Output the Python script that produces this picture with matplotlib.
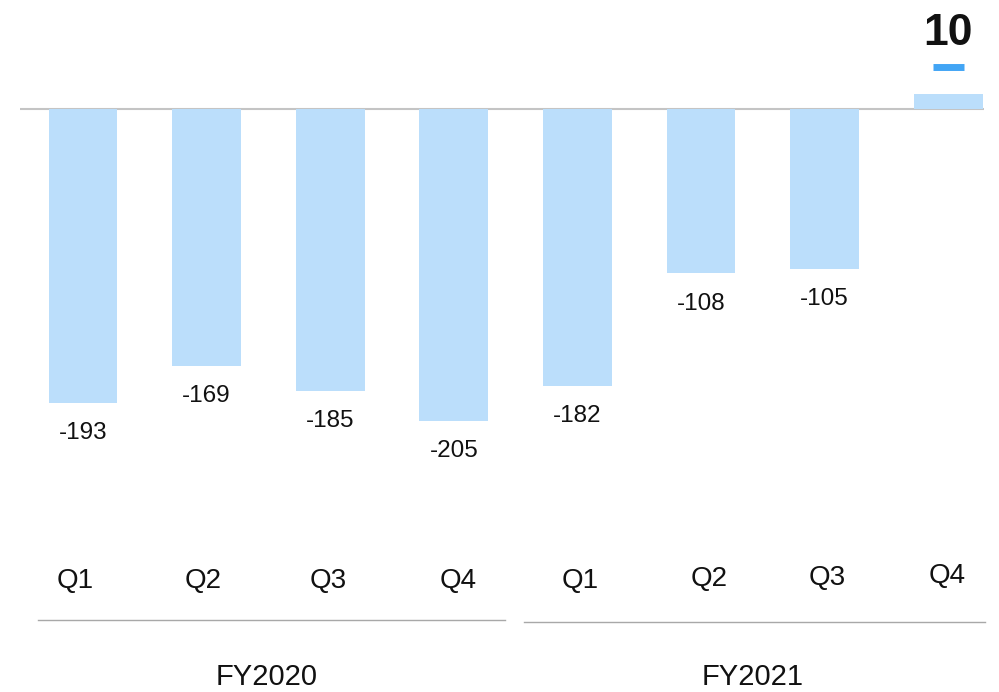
import matplotlib
matplotlib.use("Agg")
import matplotlib.pyplot as plt
from matplotlib import font_manager

# make sure the Arial-metric family is really available
font_manager.findfont(font_manager.FontProperties(family="Liberation Sans"),
                      fallback_to_default=False)
plt.rcParams['font.family'] = ['Liberation Sans', 'DejaVu Sans']

quarters = ["Q1", "Q2", "Q3", "Q4", "Q1", "Q2", "Q3", "Q4"]
values = [-193, -169, -185, -205, -182, -108, -105, 10]
years = ["FY2020", "FY2021"]

BAR = "#BBDEFB"
ACCENT = "#42A5F5"
BASE = "#C4C4C4"
RULE = "#A8A8A8"
INK = "#111111"

W, H = 999, 692
fig = plt.figure(figsize=(W / 100, H / 100), dpi=100)
ax = fig.add_axes([0, 0, 1, 1])
ax.axis("off")

# pixel layout -> data coordinates
step = 123.6
x0 = 83.0
zero_px = 109.0
scale = 1.523
ax.set_xlim(-x0 / step, (W - x0) / step)
ax.set_ylim(-(H - zero_px) / scale, zero_px / scale)


def py(p):
    """y value for a pixel row measured from the top."""
    return (zero_px - p) / scale


def px(p):
    return (p - x0) / step


xs = list(range(len(values)))
ax.bar(xs, values, width=0.558, color=BAR, zorder=2)

# baseline
ax.plot([px(20), px(984)], [0, 0], color=BASE, lw=1.5, zorder=1,
        solid_capstyle="butt")

for x, v in zip(xs, values):
    if v < 0:
        ax.annotate(f"{v}", (x, v), xytext=(0, -26), textcoords="offset points",
                    ha="center", va="baseline", fontsize=17.5, color=INK)
    else:
        ax.text(x, py(45), f"{v}", ha="center", va="baseline", fontsize=32,
                fontweight="bold", color=INK)
        ax.plot([x - 0.124, x + 0.124], [py(66.5), py(66.5)], color=ACCENT,
                lw=5.0, solid_capstyle="butt")

# quarter labels (small per-label nudges in pixels)
q_dx = [-7.5, -3, -2, 4.5, 3, 8, 2.5, -1]
q_base = [588, 588, 588, 588, 588, 586, 585, 583]
for x, q, dx, yb in zip(xs, quarters, q_dx, q_base):
    ax.text(x + dx / step, py(yb), q, ha="center", va="baseline",
            fontsize=20, color=INK)

# year separators and labels
ax.plot([px(38), px(505)], [py(620), py(620)], color=RULE, lw=1.0)
ax.plot([px(524), px(985)], [py(622), py(622)], color=RULE, lw=1.0)
ax.text(px(266.5), py(685), years[0], ha="center", va="baseline",
        fontsize=21, color=INK)
ax.text(px(753), py(685), years[1], ha="center", va="baseline",
        fontsize=21, color=INK)

fig.savefig("out.png", dpi=100)
